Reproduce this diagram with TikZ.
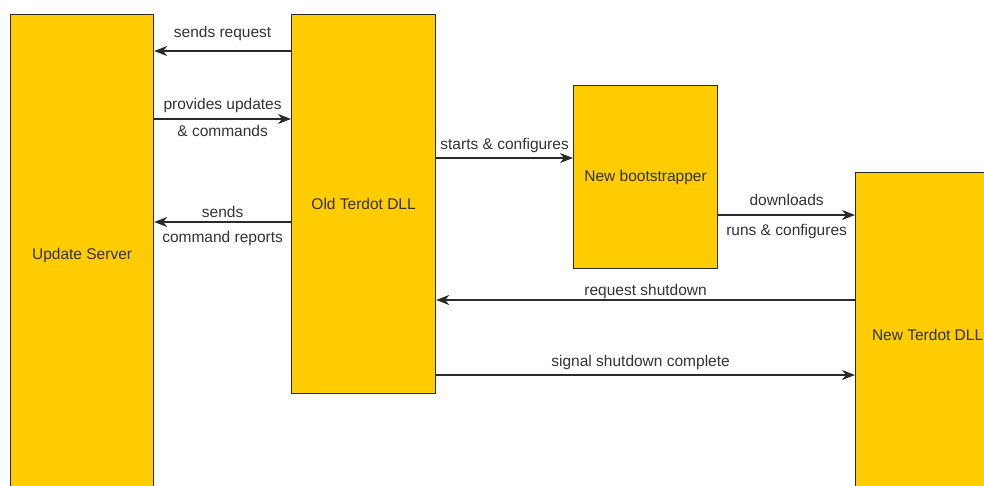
\documentclass[tikz,border=0pt]{standalone}
\usepackage{fontspec}
\setmainfont{Liberation Sans}
\usetikzlibrary{arrows.meta}
\definecolor{boxfill}{HTML}{FFCC00}
\definecolor{ink}{HTML}{2B2B2B}
\definecolor{txt}{HTML}{333333}
\begin{document}
\begin{tikzpicture}[x=1pt,y=-1pt,
  block/.style={draw=ink,fill=boxfill,line width=1.2pt,anchor=north west,
    minimum width=#1,inner sep=0pt,font=\fontsize{15.5}{18}\selectfont,text=txt},
  arr/.style={draw=ink,line width=1.3pt,-{Stealth[length=13pt,width=10pt,inset=4pt]}},
  lbl/.style={font=\fontsize{15.5}{18}\selectfont,text=txt,inner sep=0pt,
    text height=11pt,text depth=3pt,midway}]
\useasboundingbox (0,0) rectangle (984,485);
\clip (0,0) rectangle (984,485);

% the four components
\node[block=143pt,minimum height=482pt] (upd) at (10,14) {Update Server};
\node[block=144pt,minimum height=379pt] (old) at (291,14) {Old Terdot DLL};
\node[block=144pt,minimum height=183pt] (boot) at (573,85) {New bootstrapper};
\node[block=144pt,minimum height=324pt] (newdll) at (855,172) {New Terdot DLL};

% messages between the old DLL and the update server
\draw[arr] (old.west |- 0,51) -- (upd.east |- 0,51)
  node[lbl,yshift=18pt] {sends request};
\draw[arr] (upd.east |- 0,119) -- (old.west |- 0,119)
  node[lbl,yshift=14pt] {provides updates}
  node[lbl,yshift=-13pt] {\& commands};
\draw[arr] (old.west |- 0,222) -- (upd.east |- 0,222)
  node[lbl,yshift=9pt] {sends}
  node[lbl,yshift=-16pt] {command reports};

% update hand-over
\draw[arr] (old.east |- 0,158) -- (boot.west |- 0,158)
  node[lbl,yshift=13pt] {starts \& configures};
\draw[arr] (boot.east |- 0,215) -- (newdll.west |- 0,215)
  node[lbl,yshift=14pt] {downloads}
  node[lbl,yshift=-16pt] {runs \& configures};
\draw[arr] (newdll.west |- 0,300) -- (old.east |- 0,300)
  node[lbl,yshift=9pt] {request shutdown};
\draw[arr] (old.east |- 0,375) -- (newdll.west |- 0,375)
  node[lbl,yshift=13pt,xshift=-5pt] {signal shutdown complete};
\end{tikzpicture}
\end{document}
